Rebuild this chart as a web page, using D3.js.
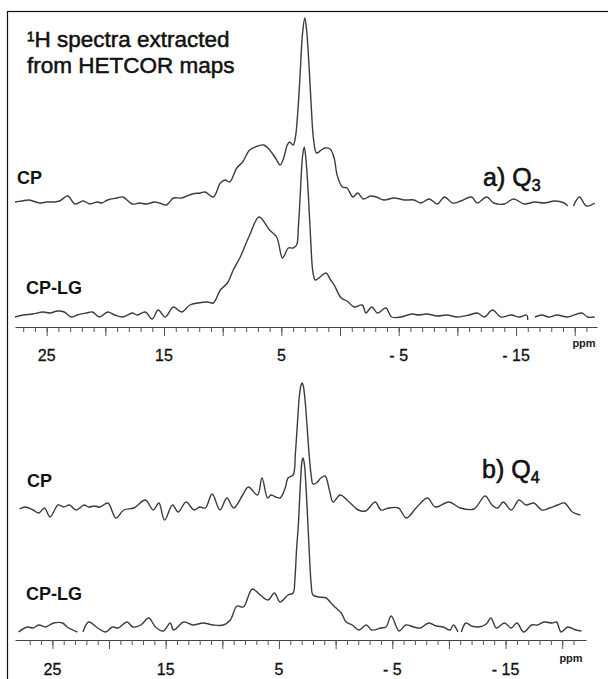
<!DOCTYPE html>
<html>
<head>
<meta charset="utf-8">
<script src="https://cdn.jsdelivr.net/npm/d3@7"></script>
<style>
  body { margin: 0; background: #fff; }
  svg { display: block; }
  text { font-family: "Liberation Sans", Arial, sans-serif; }
</style>
</head>
<body>
<div class="sandbox"></div>
<script>
// 1H spectra, [ppm, intensity (a.u.)], null = gap in the trace
var q3CP = [[27.7,0],[27.1,1],[26.5,2],[25.6,-1],[25.0,0],[24.4,0],[23.9,1],[23.2,6],[22.6,-2],[21.9,1],[21.3,-2],[20.7,0],[20.3,-1],[19.8,2],[19.0,4],[18.5,5],[17.7,-2],[17.1,-1],[16.5,-2],[15.8,0],[15.4,-1],[14.8,-3],[14.2,4],[13.5,4],[12.6,8],[11.9,9],[11.5,10],[10.8,5],[10.2,19],[9.8,22],[9.4,20],[8.8,34],[8.3,40],[7.7,52],[7.0,56],[6.5,57],[6.0,52],[5.5,44],[5.1,37],[4.8,44],[4.5,57],[4.3,60],[4.0,57],[3.8,65],[3.6,90],[3.4,128],[3.2,168],[3.0,184],[2.85,172],[2.65,138],[2.45,95],[2.25,62],[2.0,49],[1.6,52],[1.28,54],[0.85,53],[0.5,44],[0.25,27],[-0.2,15],[-0.6,14],[-1.1,5],[-1.5,9],[-2.0,3],[-2.6,6],[-3.1,5],[-3.75,2],[-4.6,4],[-5.5,2],[-6.3,2],[-6.9,-1],[-7.6,3],[-8.3,-2],[-8.9,5],[-9.6,-1],[-10.3,1],[-11.2,5],[-11.7,-1],[-12.5,5],[-13.1,-1],[-14.0,-2],[-14.8,3],[-15.7,-2],[-16.6,0],[-17.4,-1],[-18.3,1],[-19.1,-1],[-19.4,-4],[-19.6,null],[-19.9,-4],[-20.4,5],[-21.0,-4],[-21.7,-1]];

var q3CPLG = [[27.7,-2],[27.0,0],[26.2,1],[25.3,3],[24.7,2],[24.1,4],[23.5,3],[22.9,-2],[22.4,0],[21.6,2],[21.1,3],[20.5,-2],[19.8,3],[19.2,0],[18.5,-2],[17.7,2],[17.3,0],[16.6,3],[16.0,-4],[15.5,5],[14.9,-2],[14.2,8],[13.5,3],[12.8,10],[12.1,12],[11.3,13],[10.8,12],[10.2,25],[9.6,32],[9.1,45],[8.5,58],[7.7,80],[6.9,98],[6.0,85],[5.4,78],[4.9,57],[4.4,67],[4.0,67],[3.7,70],[3.55,88],[3.4,118],[3.2,158],[3.05,168],[2.9,155],[2.7,120],[2.5,75],[2.3,42],[2.1,35],[1.7,38],[1.2,42],[0.8,35],[0.5,30],[-0.1,17],[-0.6,14],[-1.2,8],[-1.9,10],[-2.2,2],[-2.7,8],[-3.2,2],[-3.9,7],[-4.4,-2],[-5.2,-2],[-6.1,1],[-6.7,0],[-7.4,1],[-8.3,-1],[-9.1,0],[-10.0,-2],[-11.0,0],[-11.7,2],[-12.3,-2],[-13.0,5],[-13.7,-2],[-14.6,0],[-15.3,-2],[-15.9,0],[-16.0,-5],[-16.3,null],[-16.6,-2],[-17.2,0],[-17.8,-2],[-18.5,0],[-19.4,-2],[-20.6,2],[-21.1,-2],[-21.7,-2]];

var q4CP = [[27.9,-1],[27.4,1],[26.7,-2],[26.2,-5],[25.7,0],[25.2,-9],[24.5,3],[24.0,1],[23.5,3],[22.9,-2],[22.2,3],[21.8,1],[21.3,2],[20.8,1],[20.1,5],[19.4,-10],[18.7,-2],[17.8,0],[16.8,8],[16.1,-2],[15.6,5],[15.1,-12],[14.4,3],[13.9,-4],[13.2,6],[12.5,-2],[12.0,1],[11.5,0],[10.9,14],[10.2,-2],[9.6,10],[9.0,0],[8.2,13],[7.7,21],[6.9,13],[6.5,30],[6.0,10],[5.7,13],[5.3,11],[4.9,10],[4.45,20],[4.2,30],[3.75,33],[3.55,55],[3.37,85],[3.2,112],[3.05,123],[2.95,125],[2.85,122],[2.7,108],[2.54,85],[2.35,55],[2.15,32],[2.0,24],[1.7,25],[1.3,30],[0.93,32],[0.55,18],[0.22,6],[-0.4,13],[-1.1,7],[-2.0,-2],[-2.65,-3],[-3.5,6],[-4.0,-2],[-4.7,0],[-5.55,0],[-6.24,-10],[-7.1,0],[-8.1,10],[-8.8,1],[-10.0,6],[-11.0,0],[-12.2,-1],[-13.2,12],[-13.8,3],[-14.3,0],[-14.8,6],[-15.5,-2],[-16.2,8],[-16.8,3],[-17.5,5],[-18.2,-2],[-18.9,0],[-19.6,3],[-20.2,5],[-20.9,-4],[-21.6,-7]];

var q4CPLG = [[28.0,-2],[27.2,3],[26.7,2],[26.2,5],[25.6,3],[24.9,7],[24.1,7],[23.7,3],[22.8,-2],[22.55,null],[22.3,-2],[21.8,8],[21.0,2],[20.3,-2],[19.7,3],[19.2,2],[18.4,8],[17.9,3],[17.2,5],[16.5,12],[15.9,3],[15.2,-1],[14.6,7],[14.3,0],[13.4,8],[12.6,5],[11.7,7],[10.8,5],[9.9,5],[9.3,10],[8.7,24],[8.15,23],[7.35,41],[6.65,35],[5.95,30],[5.4,37],[4.9,28],[4.2,35],[3.75,37],[3.6,50],[3.45,80],[3.28,107],[3.1,148],[2.95,170],[2.87,172],[2.75,165],[2.6,140],[2.45,107],[2.3,72],[2.15,45],[2.0,35],[1.45,33],[0.84,32],[0.4,27],[-0.04,22],[-0.5,17],[-0.93,8],[-1.46,5],[-2.07,0],[-2.7,5],[-3.2,0],[-4.0,2],[-4.45,3],[-4.9,14],[-5.6,-1],[-6.2,5],[-6.9,3],[-7.5,2],[-8.2,7],[-8.9,4],[-9.5,3],[-10.1,0],[-10.4,5],[-10.8,-2],[-10.95,null],[-11.1,-2],[-11.5,7],[-12.0,4],[-12.6,3],[-13.3,6],[-13.7,12],[-14.2,2],[-14.9,7],[-15.5,2],[-16.0,7],[-16.6,-2],[-17.3,5],[-17.8,5],[-18.4,8],[-19.1,7],[-19.5,8],[-19.9,-2],[-20.5,3],[-21.2,0],[-21.7,-1]];

var majorTicks = [25, 20, 15, 10, 5, 0, -5, -10, -15, -20];
var minorTicks = d3.range(27, -22, -1);
var tickLabels = [[25, "25"], [15, "15"], [5, "5"], [-5, "- 5"], [-15, "- 15"]];

var w = 608, h = 679;
var svg = d3.select(".sandbox").append("svg").attr("width", w).attr("height", h);

// frame (only left and top edges are in view)
svg.append("rect")
  .attr("x", 7.5).attr("y", 11.5)
  .attr("width", w + 10).attr("height", h + 10)
  .attr("fill", "none").attr("stroke", "#111").attr("stroke-width", 1.2);

var panels = [
  { axisY: 327, range: [15, 597], domain: [27.7, -21.9], ppmX: 584, ppmY: 347, labelY: 361,
    traces: [{ data: q3CP, off: 125 }, { data: q3CPLG, off: 12 }],
    tag: { x: 483, y: 186, main: "a) Q", sub: "3" },
    names: [{ t: "CP", x: 17, y: 184 }, { t: "CP-LG", x: 26, y: 294 }] },
  { axisY: 640, range: [15, 586], domain: [28.3, -22.1], ppmX: 571, ppmY: 662, labelY: 675,
    traces: [{ data: q4CP, off: 132 }, { data: q4CPLG, off: 10 }],
    tag: { x: 482, y: 478, main: "b) Q", sub: "4" },
    names: [{ t: "CP", x: 27, y: 487 }, { t: "CP-LG", x: 26, y: 600 }] }
];

panels.forEach(function(p) {
  var x = d3.scaleLinear().domain(p.domain).range(p.range);
  var y = d3.scaleLinear().domain([0, 320]).range([p.axisY, p.axisY - 320]);

  var g = svg.append("g");

  p.traces.forEach(function(tr) {
    var line = d3.line()
      .defined(d => d[1] !== null)
      .x(d => x(d[0]))
      .y(d => y(d[1] + tr.off))
      .curve(d3.curveCatmullRom.alpha(0.5));
    g.append("path")
      .datum(tr.data)
      .attr("d", line)
      .attr("fill", "none")
      .attr("stroke", "#3c3c3c")
      .attr("stroke-width", 1.4)
      .attr("stroke-linejoin", "round");
  });

  // axis: minor and major ticks hang below the line
  var ax = g.append("g").attr("transform", "translate(0," + p.axisY + ")");
  ax.call(d3.axisBottom(x).tickValues(minorTicks).tickSize(5).tickSizeOuter(0).tickFormat(""));
  ax.append("g").call(d3.axisBottom(x).tickValues(majorTicks).tickSize(9).tickSizeOuter(0).tickFormat(""))
    .select(".domain").remove();
  ax.selectAll("line").attr("stroke", "#555");
  ax.select(".domain").attr("stroke", "#444").attr("stroke-width", 1.2);

  g.selectAll(".tlab")
    .data(tickLabels)
    .enter()
    .append("text")
    .attr("x", d => x(d[0]))
    .attr("y", p.labelY)
    .attr("text-anchor", "middle")
    .attr("font-size", 16)
    .attr("fill", "#111")
    .attr("stroke", "#111").attr("stroke-width", 0.3)
    .text(d => d[1]);

  g.append("text")
    .attr("x", p.ppmX).attr("y", p.ppmY)
    .attr("text-anchor", "middle")
    .attr("font-family", "Liberation Serif, serif")
    .attr("font-weight", "bold")
    .attr("font-size", 11)
    .attr("fill", "#222")
    .text("ppm");

  p.names.forEach(function(n) {
    g.append("text")
      .attr("x", n.x).attr("y", n.y)
      .attr("font-size", 18).attr("font-weight", "bold")
      .attr("fill", "#111")
      .text(n.t);
  });

  var tag = g.append("text")
    .attr("x", p.tag.x).attr("y", p.tag.y)
    .attr("font-size", 25)
    .attr("fill", "#111")
    .attr("stroke", "#111").attr("stroke-width", 0.6);
  tag.append("tspan").text(p.tag.main);
  tag.append("tspan").attr("font-size", 16).attr("dy", 5).text(p.tag.sub);
});

var title = svg.append("text")
  .attr("x", 27).attr("y", 47)
  .attr("font-size", 22.5)
  .attr("fill", "#111")
  .attr("stroke", "#111").attr("stroke-width", 0.5);
title.append("tspan").text("¹H spectra extracted");
title.append("tspan").attr("x", 27).attr("dy", 26).text("from HETCOR maps");
</script>
</body>
</html>
